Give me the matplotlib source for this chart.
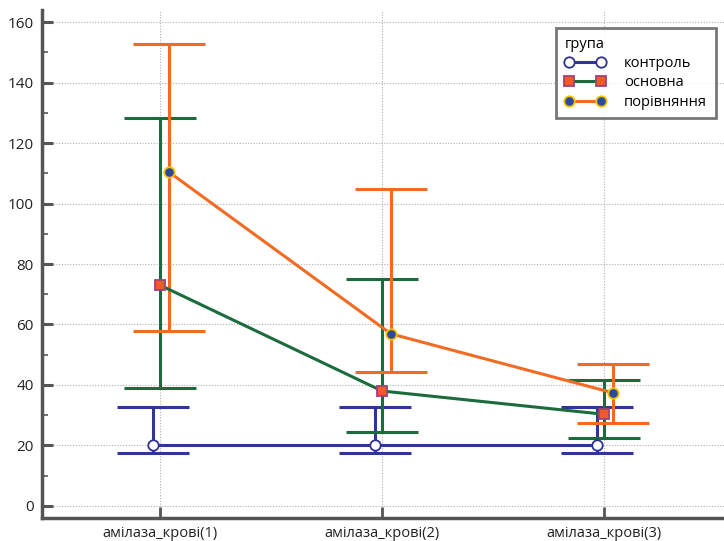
import numpy as np
import matplotlib
matplotlib.use('Agg')
import matplotlib.pyplot as plt
from matplotlib.ticker import MultipleLocator

plt.rcParams['font.family'] = ['Open Sans', 'DejaVu Sans']

CATEGORIES = ['амілаза_крові(1)', 'амілаза_крові(2)', 'амілаза_крові(3)']
GROUPS = ['контроль', 'основна', 'порівняння']

# mean, lower and upper bound per group
MEAN = {
    'контроль': [20.0, 20.0, 20.0],
    'основна': [73.0, 38.0, 30.3],
    'порівняння': [110.4, 56.9, 37.4],
}
LOWER = {
    'контроль': [17.4, 17.4, 17.4],
    'основна': [38.9, 24.5, 22.4],
    'порівняння': [57.9, 44.3, 27.4],
}
UPPER = {
    'контроль': [32.8, 32.8, 32.8],
    'основна': [128.3, 75.0, 41.7],
    'порівняння': [152.8, 104.8, 46.9],
}

STYLE = {
    'контроль': dict(line='#33349a', marker='o', mfc='white', mec='#2e3192', ms=7.5, dx=-0.03),
    'основна': dict(line='#1b6b3c', marker='s', mfc='#f05a24', mec='#a0407a', ms=7.5, dx=0.0),
    'порівняння': dict(line='#f26b22', marker='o', mfc='#2c4a9c', mec='#f2c200', ms=7.5, dx=0.04),
}

fig = plt.figure(figsize=(7.24, 5.41), dpi=100)
ax = fig.add_axes([0.058, 0.0425, 0.942, 0.939])

x = np.arange(len(CATEGORIES))
for i, g in enumerate(GROUPS):
    s = STYLE[g]
    m = np.array(MEAN[g])
    lo = m - np.array(LOWER[g])
    hi = np.array(UPPER[g]) - m
    xs = x + s['dx']
    ax.errorbar(xs, m, yerr=[lo, hi], fmt='none', ecolor=s['line'], elinewidth=2.2,
                capsize=26, capthick=2.2, zorder=2 + i)
    ax.plot(xs, m, color=s['line'], lw=2.2, marker=s['marker'], mfc=s['mfc'],
            mec=s['mec'], mew=1.3, ms=s['ms'], label=g, zorder=5 + i)

ax.set_xlim(-0.532, 2.54)
ax.set_ylim(-4, 164)
ax.set_xticks(x)
ax.set_xticklabels(CATEGORIES, fontsize=10.5, color='#222222')
ax.yaxis.set_major_locator(MultipleLocator(20))
ax.yaxis.set_minor_locator(MultipleLocator(10))
ax.tick_params(axis='y', which='major', direction='in', length=8, width=2.2,
               color='#555555', labelsize=11, labelcolor='#222222', pad=6)
ax.tick_params(axis='y', which='minor', direction='in', length=4, width=1.2, color='#555555')
ax.tick_params(axis='x', which='major', direction='in', length=8, width=2, color='#555555', pad=6)
ax.grid(True, which='major', color='#b0b0b0', ls=(0, (1, 1.5)), lw=0.8)

for side in ['top', 'right']:
    ax.spines[side].set_visible(False)
for side in ['left', 'bottom']:
    ax.spines[side].set_color('#555555')
    ax.spines[side].set_linewidth(2.5)

leg = ax.legend(title='група', loc='upper right', bbox_to_anchor=(0.988, 0.965), numpoints=2,
                borderaxespad=0, fontsize=10.5, title_fontsize=10.5, frameon=True, fancybox=False,
                handlelength=2.8, borderpad=0.6, labelspacing=0.3, handletextpad=1.3)
leg._legend_box.align = 'left'
leg.get_frame().set_edgecolor('#555555')
leg.get_frame().set_linewidth(2)

fig.savefig('out.png', dpi=100)
